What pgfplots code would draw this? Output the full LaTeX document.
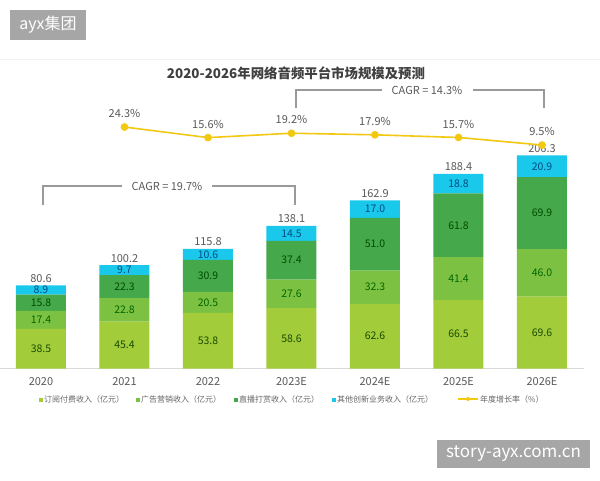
\documentclass[border=0pt]{standalone}
\usepackage{pgfplots}
\usepackage{pgfplotstable}
\pgfplotsset{compat=1.18}
\usepackage{fontspec}
\setmainfont{Noto Sans CJK SC}

\definecolor{subcol}{HTML}{A3CC3A}
\definecolor{adcol}{HTML}{7DC142}
\definecolor{livecol}{HTML}{45A84A}
\definecolor{othercol}{HTML}{1AC8EC}
\definecolor{ratecol}{HTML}{F2C811}
\definecolor{txtgray}{HTML}{595959}
\definecolor{bracketgray}{HTML}{9A9A9A}

% revenue by segment (亿元), x = year index
\pgfplotstableread{
x  a     b     c     d     total
0  38.5  17.4  15.8  8.9   80.6
1  45.4  22.8  22.3  9.7   100.2
2  53.8  20.5  30.9  10.6  115.8
3  58.6  27.6  37.4  14.5  138.1
4  62.6  32.3  51.0  17.0  162.9
5  66.5  41.4  61.8  18.8  188.4
6  69.6  46.0  69.9  20.9  206.3
}\revenue

% annual growth rate (%)
\pgfplotstableread{
x  rate
1  24.3
2  15.6
3  19.2
4  17.9
5  15.7
6  9.5
}\growth

\pgfplotsset{
  common/.style={
    scale only axis, width=584.5pt, height=258pt,
    at={(-0.75pt,111.5pt)}, anchor=south west,
    xmin=-0.5, xmax=6.5,
  },
}

\begin{document}
\begin{tikzpicture}[x=1pt,y=1pt]
\path[use as bounding box] (0,0) rectangle (600,480);
\fill[white] (0,0) rectangle (600,480);
\draw[black!5, line width=1pt] (0,420) -- (600,420);

% title
\node[font=\bfseries\fontsize{13.4}{16}\selectfont, text=black!75] at (296,407)
  {2020-2026年网络音频平台市场规模及预测};

% stacked bars
\begin{axis}[common,
  ymin=0, ymax=250,
  ybar stacked, bar width=50pt,
  axis y line=none, axis x line*=bottom,
  x axis line style={draw=black!15, line width=0.8pt, -},
  xtick=data, xtick style={draw=none},
  xticklabels={2020,2021,2022,2023E,2024E,2025E,2026E},
  xticklabel style={font=\fontsize{11}{13}\selectfont, text=txtgray, yshift=-5pt},
]
\addplot[fill=subcol, draw=none] table[x=x, y=a] {\revenue};
\addplot[fill=adcol, draw=none] table[x=x, y=b] {\revenue};
\addplot[fill=livecol, draw=none] table[x=x, y=c] {\revenue};
\addplot[fill=othercol, draw=none] table[x=x, y=d] {\revenue};
\end{axis}

% value labels: segment midpoints and totals
\begin{axis}[common,
  ymin=0, ymax=250, hide axis,
  point meta=explicit symbolic,
  nodes near coords,
  every node near coord/.append style={anchor=center, font=\fontsize{10.5}{12}\selectfont},
]
\addplot[draw=none, mark=none, nodes near coords style={text=green!25!black!80!olive}]
  table[x=x, y expr=\thisrow{a}/2, meta=a] {\revenue};
\addplot[draw=none, mark=none, nodes near coords style={text=green!40!black}]
  table[x=x, y expr=\thisrow{a}+\thisrow{b}/2, meta=b] {\revenue};
\addplot[draw=none, mark=none, nodes near coords style={text=green!30!black}]
  table[x=x, y expr=\thisrow{a}+\thisrow{b}+\thisrow{c}/2, meta=c] {\revenue};
\addplot[draw=none, mark=none, nodes near coords style={text=blue!40!cyan!50!black}]
  table[x=x, y expr=\thisrow{a}+\thisrow{b}+\thisrow{c}+\thisrow{d}/2, meta=d] {\revenue};
\addplot[draw=none, mark=none, nodes near coords style={text=txtgray, yshift=7pt, font=\fontsize{11}{13}\selectfont}]
  table[x=x, y=total, meta=total] {\revenue};
\end{axis}

% growth rate line
\begin{axis}[common,
  ymin=-174.3, ymax=37.9, hide axis,
  /pgf/number format/assume math mode=true,
  nodes near coords={\pgfmathprintnumber[fixed,precision=1,fixed zerofill]{\pgfplotspointmeta}\%},
  every node near coord/.append style={anchor=center, yshift=13.5pt,
    font=\fontsize{11}{13}\selectfont, text=txtgray},
]
\addplot[color=ratecol, line width=1.6pt, mark=*, mark size=3pt,
  mark options={fill=ratecol, draw=ratecol}] table[x=x, y=rate] {\growth};
\end{axis}

% CAGR brackets
\begin{scope}[bracketgray, line width=1.1pt]
  \draw (43,275) -- (43,294) -- (122,294);
  \draw (212,294) -- (295,294) -- (295,275);
  \draw (296,372) -- (296,390) -- (382,390);
  \draw (473,390) -- (544,390) -- (544,372);
\end{scope}
\node[font=\fontsize{11}{13}\selectfont, text=txtgray] at (167,294) {CAGR = 19.7\%};
\node[font=\fontsize{11}{13}\selectfont, text=txtgray] at (427,390) {CAGR = 14.3\%};

% legend
\begin{scope}[font=\fontsize{8}{10}\selectfont, text=black!60]
  \fill[subcol] (39,78.5) rectangle (43,82.5);
  \node[anchor=west, inner sep=0pt] at (44,80.5) {订阅付费收入（亿元）};
  \fill[adcol] (136,78.5) rectangle (140,82.5);
  \node[anchor=west, inner sep=0pt] at (141,80.5) {广告营销收入（亿元）};
  \fill[livecol] (234,78.5) rectangle (238,82.5);
  \node[anchor=west, inner sep=0pt] at (239,80.5) {直播打赏收入（亿元）};
  \fill[othercol] (332,78.5) rectangle (336,82.5);
  \node[anchor=west, inner sep=0pt] at (337,80.5) {其他创新业务收入（亿元）};
  \draw[ratecol, line width=1.3pt] (458,81) -- (478,81);
  \fill[ratecol] (468,81) circle (2pt);
  \node[anchor=west, inner sep=0pt] at (480,81) {年度增长率（\%）};
\end{scope}

% corner badges
\fill[black!35] (10,440) rectangle (86,470);
\node[text=white, font=\fontsize{16}{18}\selectfont] at (48,455) {ayx集团};
\fill[black!35] (437,12) rectangle (590,40);
\node[text=white, font=\fontsize{17}{19}\selectfont] at (513.5,26) {story-ayx.com.cn};
\end{tikzpicture}
\end{document}
